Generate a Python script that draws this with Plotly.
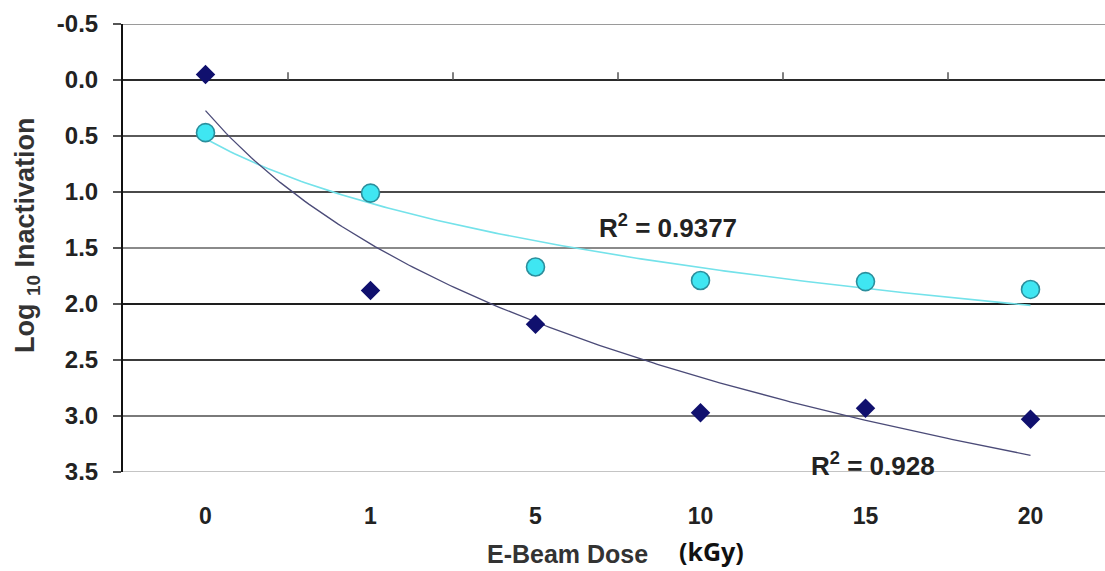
import numpy as np
import plotly.graph_objects as go

# Dose categories (kGy) and log10 inactivation for the two treatments
doses = ["0", "1", "5", "10", "15", "20"]
series_a = [-0.05, 1.88, 2.18, 2.97, 2.93, 3.03]   # dark diamonds
series_b = [0.47, 1.01, 1.67, 1.79, 1.80, 1.87]    # cyan circles
r2_a = "0.928"
r2_b = "0.9377"
y_ticks = [-0.5, 0.0, 0.5, 1.0, 1.5, 2.0, 2.5, 3.0, 3.5]

xi = np.arange(len(doses))


def log_trend(vals):
    # Excel-style logarithmic trendline over category index 1..n
    L = np.log(xi + 1.0)
    a, b = np.polyfit(L, np.array(vals), 1)
    xs = np.linspace(0, len(doses) - 1, 200)
    return xs, a * np.log(xs + 1.0) + b


fig = go.Figure()

xa, ya = log_trend(series_a)
xb, yb = log_trend(series_b)

fig.add_trace(go.Scatter(x=xb, y=yb, mode="lines",
                         line=dict(color="#74e2ea", width=1.6),
                         hoverinfo="skip", showlegend=False))
fig.add_trace(go.Scatter(x=xa, y=ya, mode="lines",
                         line=dict(color="#4b4b78", width=1.3),
                         hoverinfo="skip", showlegend=False))
fig.add_trace(go.Scatter(x=xi, y=series_b, mode="markers",
                         marker=dict(symbol="circle", size=18, color="#3fe6f2",
                                     line=dict(color="#2b8e9c", width=1.6)),
                         showlegend=False))
fig.add_trace(go.Scatter(x=xi, y=series_a, mode="markers",
                         marker=dict(symbol="diamond", size=15, color="#10106e",
                                     line=dict(color="#10106e", width=0)),
                         showlegend=False))

# Horizontal gridlines, drawn individually
grid_colors = ["#9a9a9a", "#2a2a2a", "#5a5a5a", "#4a4a4a", "#8a8a8a",
               "#1e1e1e", "#3a3a3a", "#7a7a7a", "#c4c4c4"]
shapes = []
for v, c in zip(y_ticks, grid_colors):
    shapes.append(dict(type="line", xref="paper", yref="y", x0=0, x1=1,
                       y0=v, y1=v, line=dict(color=c, width=2), layer="below"))
# Small tick marks on the zero line at category boundaries
for k in range(len(doses) - 1):
    shapes.append(dict(type="line", xref="x", yref="y", x0=k + 0.5, x1=k + 0.5,
                       y0=0, y1=-0.07, line=dict(color="#555555", width=1.5)))

W, H = 1105, 571
ml, mr, mt, mb = 123, 0, 24, 99
pw, ph = W - ml - mr, H - mt - mb


def px(x, y):
    # pixel position -> paper coordinates
    return (x - ml) / pw, (H - mb - y) / ph


annotations = [
    dict(x=2.37, y=1.31, xref="x", yref="y", text="<b>R<sup>2</sup> = " + r2_b + "</b>",
         showarrow=False, xanchor="left", yanchor="middle",
         font=dict(family="Liberation Sans", size=26, color="#222222")),
    dict(x=3.66, y=3.43, xref="x", yref="y", text="<b>R<sup>2</sup> = " + r2_a + "</b>",
         showarrow=False, xanchor="left", yanchor="middle",
         font=dict(family="Liberation Sans", size=26, color="#222222")),
]
tx, ty = px(567, 554)
annotations.append(dict(x=tx, y=ty, xref="paper", yref="paper",
                        text="<b>E-Beam Dose</b>", showarrow=False,
                        xanchor="center", yanchor="middle",
                        font=dict(family="Liberation Sans", size=25, color="#333333")))
tx, ty = px(711, 551)
annotations.append(dict(x=tx, y=ty, xref="paper", yref="paper",
                        text="<b>(kGy)</b>", showarrow=False,
                        xanchor="center", yanchor="middle",
                        font=dict(family="Noto Sans", size=25, color="#111111")))
tx, ty = px(27, 235)
annotations.append(dict(x=tx, y=ty, xref="paper", yref="paper",
                        text="<b>Log <sub>10</sub> Inactivation</b>", showarrow=False,
                        textangle=-90, xanchor="center", yanchor="middle",
                        font=dict(family="Liberation Sans", size=27, color="#333333")))

fig.update_layout(
    width=W, height=H,
    margin=dict(l=ml, r=mr, t=mt, b=mb),
    paper_bgcolor="white", plot_bgcolor="white",
    font=dict(family="Liberation Sans", color="#222222"),
    shapes=shapes, annotations=annotations,
    xaxis=dict(range=[-0.5, (W - ml) / 165.0 - 0.5], tickmode="array",
               tickvals=list(xi), ticktext=["<b>%s</b>" % d for d in doses],
               tickfont=dict(size=23, color="#222222"),
               showgrid=False, zeroline=False, showline=False, ticks="",
               ticklabelstandoff=28),
    yaxis=dict(range=[3.5, -0.5], tickmode="array", tickvals=y_ticks,
               ticktext=["<b>%.1f</b>" % v for v in y_ticks],
               tickfont=dict(size=24, color="#222222"),
               showgrid=False, zeroline=False, showline=True,
               linecolor="#111111", linewidth=2, ticks="outside",
               ticklen=8, tickcolor="#555555", tickwidth=2,
               ticklabelstandoff=10),
)

fig.write_html("out.html")
